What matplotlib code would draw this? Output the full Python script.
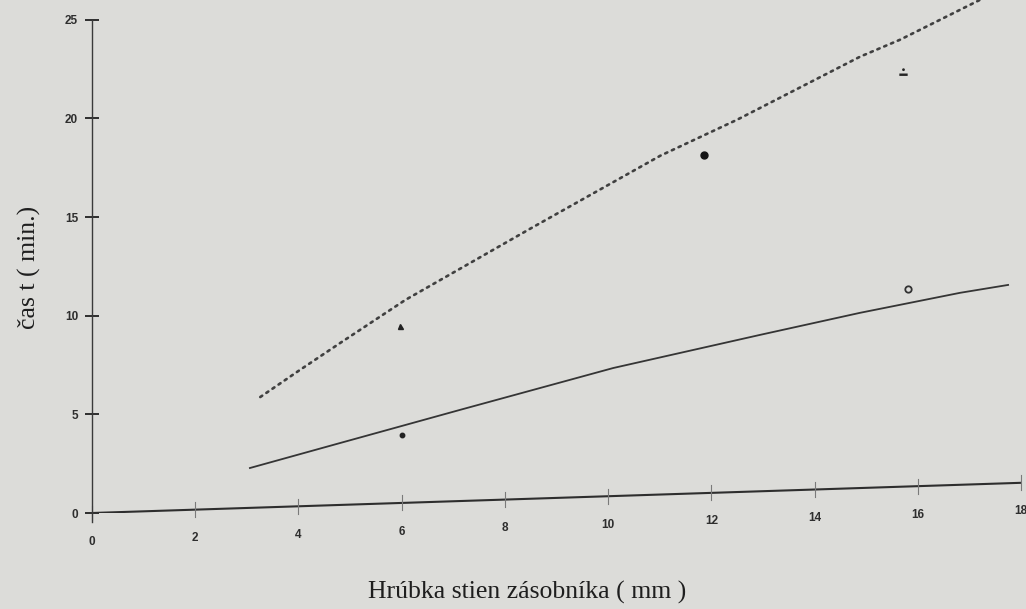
import numpy as np
import matplotlib
matplotlib.use("Agg")
import matplotlib.pyplot as plt
from matplotlib.transforms import Affine2D
from matplotlib.path import Path

# ---- data -------------------------------------------------------------
x_ticks = [0, 2, 4, 6, 8, 10, 12, 14, 16, 18]
y_ticks = [0, 5, 10, 15, 20, 25]

# upper (dotted) fitted curve
fit_upper_x = [3.26, 4.03, 4.81, 6.07, 8.5, 11.01, 12.5, 14.88, 15.66, 17.21]
fit_upper_y = [5.60, 6.91, 8.21, 10.28, 13.7, 17.17, 18.87, 21.86, 22.66, 24.55]

# lower (solid) fitted curve
fit_lower_x = [3.06, 4.81, 7.13, 10.10, 12.95, 14.88, 16.82, 17.75]
fit_lower_y = [2.02, 3.14, 4.62, 6.49, 7.93, 8.88, 9.73, 10.05]

# measured points
pts_tri_x, pts_tri_y = [5.97], [8.97]
pts_dot_small_x, pts_dot_small_y = [6.0], [3.45]
pts_dot_x, pts_dot_y = [11.85], [17.15]
pts_bar_x, pts_bar_y = [15.72], [20.98]
pts_open_x, pts_open_y = [15.82], [10.0]

x_label = "Hrúbka stien zásobníka ( mm )"
y_label = "čas t ( min.)"

# ---- figure -----------------------------------------------------------
BG = "#dcdcd9"
INK = "#2e2e2e"
W, H = 1026, 609
fig = plt.figure(figsize=(W / 100, H / 100), dpi=100, facecolor=BG)
ax = fig.add_axes([92 / W, 1 - 513 / H, (1021 - 92) / W, 513 / H])
ax.set_facecolor(BG)
ax.set_xlim(0, 18)
ax.set_ylim(0, 26.0)

for side in ("top", "right", "bottom"):
    ax.spines[side].set_visible(False)
ax.spines["left"].set_bounds(-0.45, 25)
ax.spines["left"].set_color("#3a3a3a")
ax.spines["left"].set_linewidth(1.0)

ax.set_xticks([])
ax.set_yticks(y_ticks)
ax.tick_params(axis="y", direction="inout", length=10, width=1.4,
               color=INK, pad=5, labelsize=8.5, labelcolor=INK)
for lab in ax.get_yticklabels():
    lab.set_fontweight("bold")
    lab.set_family("Liberation Sans")

# the horizontal axis sits slightly askew: shear in display space
x0, y0 = ax.transAxes.transform((0, 0))
slope = 0.0325
T = ax.transData + Affine2D().translate(-x0, -y0).skew(0, np.arctan(slope)).translate(x0, y0)

xmin, xmax = ax.get_xlim()
ax.plot([xmin, xmax], [0, 0], color=INK, lw=1.5, transform=T, solid_capstyle="butt")
for t in x_ticks:
    ax.plot([t, t], [-0.38, 0.38], color="#7a7a7a", lw=0.8, transform=T, clip_on=False)
    ax.text(t, -1.45, str(t), transform=T, ha="center", va="center",
            fontsize=8.5, fontweight="bold", color=INK, family="Liberation Sans",
            clip_on=False)

# fitted curves
ax.plot(fit_upper_x, fit_upper_y, color="#404040", lw=1.9,
        linestyle=(0, (0.9, 1.9)), dash_capstyle="round", transform=T)
ax.plot(fit_lower_x, fit_lower_y, color="#353535", lw=1.3, transform=T)

# measured points
ax.plot(pts_tri_x, pts_tri_y, linestyle="none", marker="^", ms=3.6,
        color="#222222", transform=T)
ax.plot(pts_dot_small_x, pts_dot_small_y, linestyle="none", marker="o", ms=3.2,
        color="#222222", transform=T)
ax.plot(pts_dot_x, pts_dot_y, linestyle="none", marker="o", ms=5.0,
        color="#151515", transform=T)

circle = Path.circle((0.0, 0.55), 0.2)
bar = Path([(-0.6, -0.35), (0.6, -0.35), (0.6, 0.0), (-0.6, 0.0), (-0.6, -0.35)],
           [Path.MOVETO, Path.LINETO, Path.LINETO, Path.LINETO, Path.CLOSEPOLY])
dot_bar = Path.make_compound_path(circle, bar)
ax.plot(pts_bar_x, pts_bar_y, linestyle="none", marker=dot_bar, ms=7.5,
        color="#262626", mew=0, transform=T)
ax.plot(pts_open_x, pts_open_y, linestyle="none", marker="o", ms=4.6,
        mfc="none", mec="#333333", mew=1.3, transform=T)

# axis titles
fig.text(527 / W, 1 - 592 / H, x_label, ha="center", va="center",
         fontsize=18.5, family="Liberation Serif", color="#1e1e1e")
fig.text(29 / W, 1 - 267 / H, y_label, ha="center", va="center", rotation=90,
         fontsize=18.5, family="Liberation Serif", color="#1e1e1e")

fig.savefig("out.png", dpi=100, facecolor=BG)
